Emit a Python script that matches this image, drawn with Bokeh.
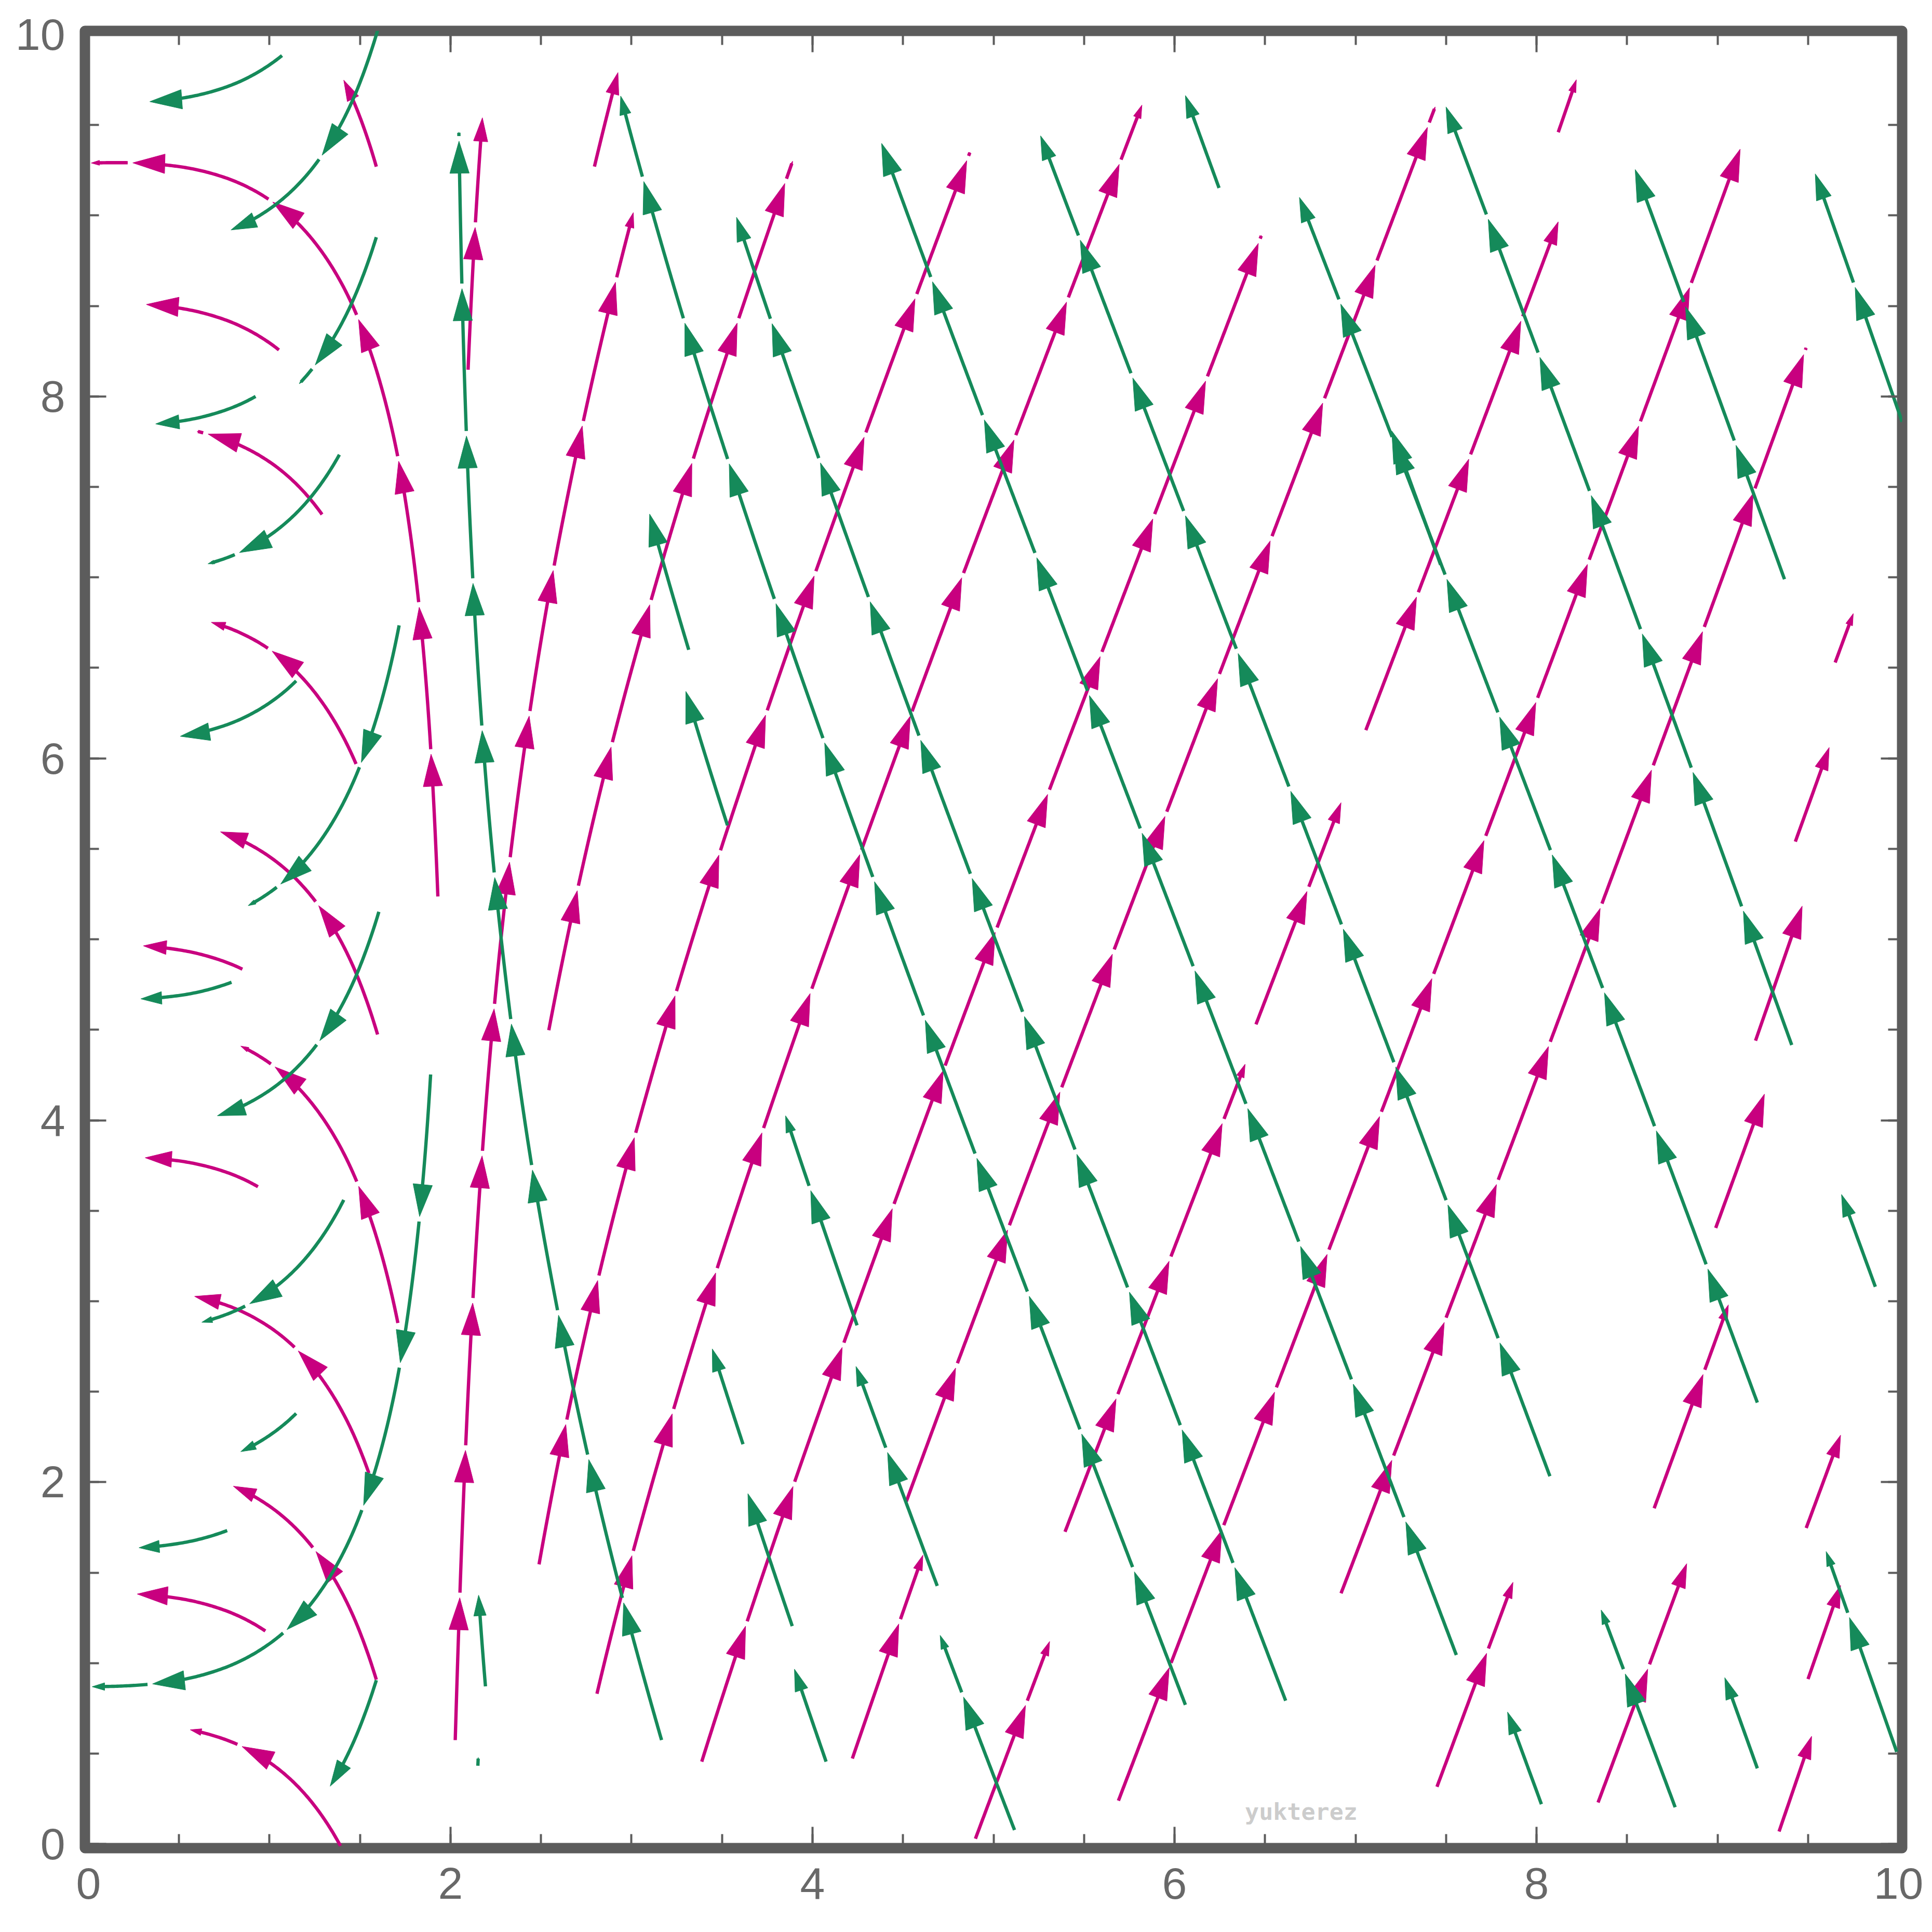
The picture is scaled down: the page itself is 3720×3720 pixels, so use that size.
import math, bisect
import numpy as np
from bokeh.plotting import figure
from bokeh.models import Range1d, SingleIntervalTicker, LinearAxis, Label
from bokeh.embed import file_html
from bokeh.resources import INLINE

# ---------------- data ----------------
# direction of the magenta stream field, angle from vertical (deg), as a function of x
field_x   = [0.0, 0.1, 0.25, 0.5, 0.75, 1.0, 1.25, 1.5, 1.75, 1.9, 2.0, 2.1, 2.25, 2.5, 3.0, 3.5, 4.0, 5.0, 6.0, 7.0, 8.0, 9.0, 10.0]
field_phi = [-90.0, -89.3, -87.1, -80.5, -69.8, -54.7, -37.2, -21.0, -8.7, -3.1, 0.0, 2.7, 6.0, 10.1, 15.2, 18.0, 19.5, 20.8, 21.0, 20.9, 20.6, 20.1, 19.7]

# magenta streamlines: tail point -> final arrow tip
mag_tail_x = [1.392, 1.590, 1.549, 1.709, 1.597, 1.478, 1.290, 1.052, 1.590, 1.930, 0.977, 0.936, 0.850,
              2.026, 2.097, 2.795, 2.489, 2.809, 3.388, 4.220, 4.518, 4.900, 5.690, 5.395, 6.450, 6.920,
              7.450, 8.340, 8.650, 8.990, 9.210, 9.490, 9.500, 9.340, 2.543, 7.057, 8.120, 9.430, 9.650]
mag_tail_y = [-0.01, 0.909, 2.050, 2.880, 4.474, 5.969, 7.348, 8.257, 9.270, 5.237, 1.178, 3.633, 4.835,
              0.575, 8.148, 9.270, 1.546, 0.831, 0.456, 0.473, 1.893, 0.030, 0.240, 1.726, 4.530, 1.386,
              0.317, 0.230, 1.856, 3.405, 4.440, 1.747, 0.912, 0.070, 4.498, 6.156, 9.460, 5.540, 6.530]
mag_end_x  = [0.562, 0.800, 0.586, 0.841, 0.729, 0.678, 0.600, 0.310, 1.410, 0.015, 0.269, 0.313, 0.303,
              3.010, 2.176, 2.925, 4.870, 5.820, 6.480, 4.610, 7.440, 5.310, 9.130, 6.390, 6.920, 9.490,
              7.870, 8.830, 9.060, 9.260, 9.470, 9.680, 9.680, 9.520, 3.890, 8.120, 8.220, 9.617, 9.750]
mag_end_y  = [0.632, 1.978, 3.027, 4.410, 5.594, 6.752, 7.807, 8.509, 9.748, 9.290, 1.382, 3.793, 4.964,
              9.016, 9.540, 9.790, 9.350, 9.610, 8.890, 1.597, 9.600, 1.120, 9.380, 4.310, 5.755, 8.270,
              1.447, 1.550, 2.980, 4.147, 5.190, 2.260, 1.430, 0.596, 9.300, 8.965, 9.750, 6.060, 6.800]

# green streamlines: tail point -> final arrow tip
grn_tail_x = [1.605, 1.069, 1.590, 0.923, 1.386, 1.716, 1.147, 1.604, 1.147, 1.410, 1.890, 1.590, 0.766, 0.790,
              3.166, 5.116, 4.075, 3.888, 3.616, 6.060, 6.614, 2.151, 2.193, 4.689, 4.246, 3.530, 3.316,
              7.557, 8.074, 8.766, 8.027, 9.220, 9.220, 9.410, 9.872, 9.990, 6.246, 9.370, 10.02, 7.470]
grn_tail_y = [10.05, 9.884, 8.880, 8.000, 7.678, 6.735, 6.428, 5.152, 2.380, 3.560, 4.253, 0.906, 1.733, 4.763,
              0.575, 0.078, 0.456, 1.205, 2.210, 0.770, 0.793, 0.433, 0.872, 1.427, 2.867, 5.630, 6.600,
              1.045, 2.033, 0.204, 0.221, 0.419, 2.440, 4.416, 3.080, 0.510, 9.152, 6.990, 7.860, 7.070]
grn_end_x  = [0.787, 0.337, 1.164, 0.371, 0.660, 0.882, 0.507, 0.712, 0.841, 0.626, 0.020, 1.335, 0.279, 0.289,
              2.046, 4.705, 3.900, 3.643, 3.446, 2.940, 3.580, 2.153, 2.155, 4.240, 3.851, 3.300, 3.100,
              4.372, 5.260, 8.357, 7.840, 9.040, 6.690, 7.500, 9.685, 9.600, 6.060, 8.545, 9.540, 7.200]
grn_end_y  = [8.920, 9.629, 8.070, 7.848, 7.075, 5.186, 6.122, 4.025, 2.169, 2.884, 0.870, 0.320, 1.638, 4.671,
              9.460, 1.154, 0.967, 1.937, 2.737, 9.660, 8.990, 0.479, 1.376, 2.640, 4.025, 6.370, 7.350,
              9.425, 9.440, 1.294, 0.730, 0.920, 9.100, 9.600, 3.590, 1.617, 9.663, 9.254, 9.230, 7.810]

watermark = "yukterez"

MAGENTA = "#C8007F"
GREEN = "#158A5A"
FRAME = "#5C5C5C"

PERIOD = 0.815      # arc length between consecutive arrow starts
PIECE = 0.787       # arc length of one arrow (shaft + head)


def interp(x, xs, ys):
    if x <= xs[0]:
        return ys[0]
    if x >= xs[-1]:
        return ys[-1]
    i = bisect.bisect_right(xs, x) - 1
    t = (x - xs[i]) / (xs[i + 1] - xs[i])
    return ys[i] + t * (ys[i + 1] - ys[i])


def direction(x, kind):
    a = math.radians(interp(x, field_x, field_phi))
    if kind == "m":
        return math.sin(a), math.cos(a)
    s = 1.0 if x >= 2.0 else -1.0
    return -s * math.sin(a), s * math.cos(a)


def trace(x0, y0, x1, y1, kind, h=0.006):
    xs, ys = [x0], [y0]
    x, y = x0, y0
    chord = math.hypot(x1 - x0, y1 - y0)
    s = 0.0
    for _ in range(8000):
        dx, dy = direction(x, kind)
        if s > 0.3 * chord and (x1 - x) * dx + (y1 - y) * dy <= 0:
            break
        if s > 2.0 * chord + 1.0:
            break
        k1 = direction(x, kind)
        k2 = direction(x + 0.5 * h * k1[0], kind)
        k3 = direction(x + 0.5 * h * k2[0], kind)
        k4 = direction(x + h * k3[0], kind)
        x += h * (k1[0] + 2 * k2[0] + 2 * k3[0] + k4[0]) / 6
        y += h * (k1[1] + 2 * k2[1] + 2 * k3[1] + k4[1]) / 6
        s += h
        xs.append(x)
        ys.append(y)
    xs = np.array(xs)
    ys = np.array(ys)
    seg = np.hypot(np.diff(xs), np.diff(ys))
    cum = np.concatenate([[0.0], np.cumsum(seg)])
    S = cum[-1] if cum[-1] > 0 else 1.0
    # bend the path slightly so that it ends exactly at the observed tip
    xs = xs + (x1 - xs[-1]) * cum / S
    ys = ys + (y1 - ys[-1]) * cum / S
    seg = np.hypot(np.diff(xs), np.diff(ys))
    cum = np.concatenate([[0.0], np.cumsum(seg)])
    return xs, ys, cum


def arrows(tx, ty, ex, ey, kind):
    shafts_x, shafts_y, heads_x, heads_y = [], [], [], []
    for x0, y0, x1, y1 in zip(tx, ty, ex, ey):
        xs, ys, cum = trace(x0, y0, x1, y1, kind)
        S = cum[-1]
        k = 0
        while k * PERIOD < S - 1e-4:
            a = k * PERIOD
            b = min(a + PIECE, S)
            ln = b - a
            hl = 0.225 * ln
            hw = 0.068 * ln
            sb = max(a, b - 0.6 * hl)
            ss = np.linspace(a, sb, max(2, int((sb - a) / 0.01) + 2))
            shafts_x.append(list(np.interp(ss, cum, xs)))
            shafts_y.append(list(np.interp(ss, cum, ys)))
            tipx, tipy = np.interp(b, cum, xs), np.interp(b, cum, ys)
            bb = max(a, b - 0.03)
            px, py = np.interp(bb, cum, xs), np.interp(bb, cum, ys)
            ux, uy = tipx - px, tipy - py
            nrm = math.hypot(ux, uy) or 1.0
            ux, uy = ux / nrm, uy / nrm
            bx, by = tipx - ux * hl, tipy - uy * hl
            nx, ny = -uy, ux
            heads_x.append([tipx, bx + nx * hw, bx - nx * hw])
            heads_y.append([tipy, by + ny * hw, by - ny * hw])
            k += 1
    return shafts_x, shafts_y, heads_x, heads_y


p = figure(frame_width=3499, frame_height=3499,
           x_range=Range1d(-0.02, 10.02), y_range=Range1d(-0.022, 10.02),
           output_backend="svg", toolbar_location=None,
           x_axis_location=None, y_axis_location=None,
           min_border_left=163, min_border_top=59, min_border_right=42, min_border_bottom=146)
p.xgrid.visible = False
p.ygrid.visible = False
p.background_fill_color = "white"
p.border_fill_color = "white"
p.outline_line_color = FRAME
p.outline_line_width = 20
p.outline_line_join = "round"

for loc in ["below", "left", "above", "right"]:
    ax = LinearAxis(ticker=SingleIntervalTicker(interval=2, num_minor_ticks=4))
    ax.axis_line_color = None
    ax.major_tick_in = 41
    ax.major_tick_out = 0
    ax.minor_tick_in = 27
    ax.minor_tick_out = 0
    ax.major_tick_line_color = FRAME
    ax.minor_tick_line_color = FRAME
    ax.major_tick_line_width = 4
    ax.minor_tick_line_width = 4
    ax.major_label_text_font = "Liberation Sans"
    ax.major_label_text_font_size = "86px"
    ax.major_label_text_color = "#686868"
    ax.major_label_standoff = 38
    if loc in ("above", "right"):
        ax.major_label_text_font_size = "1px"
        ax.major_label_text_color = None
        ax.major_label_text_alpha = 0
        ax.major_label_standoff = 0
    p.add_layout(ax, loc)

msx, msy, mhx, mhy = arrows(mag_tail_x, mag_tail_y, mag_end_x, mag_end_y, "m")
gsx, gsy, ghx, ghy = arrows(grn_tail_x, grn_tail_y, grn_end_x, grn_end_y, "g")

p.multi_line(msx, msy, line_color=MAGENTA, line_width=6.4, line_cap="butt", line_join="round")
p.patches(mhx, mhy, fill_color=MAGENTA, line_color=MAGENTA, line_width=1)
p.multi_line(gsx, gsy, line_color=GREEN, line_width=6.4, line_cap="butt", line_join="round")
p.patches(ghx, ghy, fill_color=GREEN, line_color=GREEN, line_width=1)

p.add_layout(Label(x=6.70, y=0.18, text=watermark, text_align="center", text_baseline="alphabetic",
                   text_font="DejaVu Sans Mono", text_font_style="bold", text_font_size="45px",
                   text_color="#cccccc"))

open("out.html", "w").write(file_html(p, INLINE))
